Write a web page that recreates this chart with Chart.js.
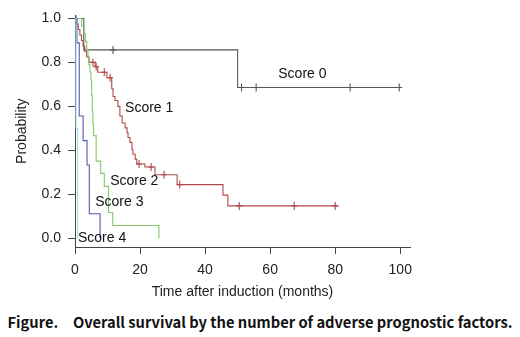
<!DOCTYPE html>
<html>
<head>
<meta charset="utf-8">
<script src="https://cdn.jsdelivr.net/npm/chart.js@4"></script>
<style>
  html, body { margin: 0; padding: 0; background: #fff; }
  #wrap { position: relative; width: 520px; height: 337px; }
  #c { position: absolute; left: 0; top: 0; }
  #cap { position: absolute; left: 0; top: 311px; width: 520px; text-align: center;
         font-family: "Noto Sans CJK JP", "Noto Sans", sans-serif; font-weight: bold;
         font-size: 14.7px; color: #111; white-space: pre; }
</style>
</head>
<body>
<div id="wrap">
  <canvas id="c" width="520" height="310"></canvas>
  <div id="cap">Figure.　Overall survival by the number of adverse prognostic factors.</div>
</div>
<script>
// ---- data ----
const seriesNames = ["Score 0", "Score 1", "Score 2", "Score 3", "Score 4"];

// Kaplan-Meier step points: times and survival probabilities
const score0Times = [0, 2.7, 50, 100];
const score0Surv  = [1, 0.857, 0.686, 0.686];
const score0CensorTimes = [0.3, 11.7, 51.2, 55.7, 84.6, 99.7];
const score0CensorSurv  = [1, 0.857, 0.686, 0.686, 0.686, 0.686];

const score1Times = [0, 0.5, 1.0, 1.5, 2.0, 2.5, 3.0, 3.6, 4.3, 6.2, 7.0, 9.8, 11.3, 11.7, 12.3, 13.2, 13.8, 14.5, 15.4, 16.0, 16.3, 16.9, 17.5, 17.8, 18.5, 19.0, 21.5, 24.6, 31.4, 45.5, 47.0, 81.0];
const score1Surv  = [1, 0.975, 0.95, 0.925, 0.90, 0.875, 0.85, 0.825, 0.80, 0.78, 0.755, 0.73, 0.68, 0.645, 0.627, 0.60, 0.556, 0.524, 0.502, 0.48, 0.458, 0.436, 0.404, 0.382, 0.36, 0.338, 0.324, 0.289, 0.244, 0.196, 0.147, 0.147];
const score1CensorTimes = [5.5, 6.5, 9.0, 10.8, 19.7, 23.4, 27.4, 32.2, 50.5, 67.4, 80.0];
const score1CensorSurv  = [0.80, 0.78, 0.755, 0.73, 0.338, 0.324, 0.289, 0.244, 0.147, 0.147, 0.147];

const score2Times = [0, 2.0, 2.8, 3.2, 3.6, 4.0, 4.3, 4.6, 4.9, 5.1, 5.3, 5.5, 5.7, 6.5, 7.9, 9.0, 10.3, 11.6, 25.8];
const score2Surv  = [1, 0.965, 0.93, 0.895, 0.86, 0.825, 0.79, 0.755, 0.72, 0.65, 0.58, 0.52, 0.467, 0.351, 0.295, 0.236, 0.117, 0.058, 0];

const score3Times = [0, 0.6, 1.3, 2.5, 3.7, 4.4, 7.7];
const score3Surv  = [1, 0.889, 0.556, 0.444, 0.333, 0.111, 0];

const score4Times = [0, 0.3, 0.8];
const score4Surv  = [1, 0.5, 0];

const xTickValues = [0, 20, 40, 60, 80, 100];
const yTickValues = [0, 0.2, 0.4, 0.6, 0.8, 1.0];

// label anchor positions (data coordinates)
const labelTimes = [62.5, 15.4, 10.8, 6.2, 0.9];
const labelSurv  = [0.747, 0.59, 0.26, 0.164, 0.0];

const colors = ["#555555", "#b04848", "#86c86a", "#5656b4", "#8fe3e6"];

// ---- build datasets ----
function pts(ts, ss) { return ts.map((t, i) => ({ x: t, y: ss[i] })); }
const curves = [
  pts(score0Times, score0Surv),
  pts(score1Times, score1Surv),
  pts(score2Times, score2Surv),
  pts(score3Times, score3Surv),
  pts(score4Times, score4Surv)
];
const censors = [
  pts(score0CensorTimes, score0CensorSurv),
  pts(score1CensorTimes, score1CensorSurv),
  [], [], []
];

const datasets = [];
// draw order: 4,3,2,1,0 so score 0 on top
[4, 3, 2, 1, 0].forEach(i => {
  datasets.push({
    label: seriesNames[i], data: curves[i], stepped: 'before',
    borderColor: colors[i], borderWidth: 1.1, pointRadius: 0, fill: false
  });
  if (censors[i].length) {
    datasets.push({
      label: seriesNames[i] + " censored", data: censors[i], showLine: false,
      pointStyle: 'line', pointRotation: 90, pointRadius: 4,
      borderColor: colors[i], pointBorderColor: colors[i], pointBorderWidth: 1.1
    });
    datasets.push({
      label: seriesNames[i] + " censored h", data: censors[i], showLine: false,
      pointStyle: 'line', pointRotation: 0, pointRadius: 3,
      borderColor: colors[i], pointBorderColor: colors[i], pointBorderWidth: 1.1
    });
  }
});

const labelPlugin = {
  id: 'scoreLabels',
  afterDatasetsDraw(chart) {
    const { ctx, scales: { x, y } } = chart;
    ctx.save();
    ctx.font = '14px "Liberation Sans", Arial, sans-serif';
    ctx.fillStyle = '#111';
    ctx.textAlign = 'left';
    ctx.textBaseline = 'middle';
    seriesNames.forEach((n, i) => {
      ctx.fillText(n, x.getPixelForValue(labelTimes[i]), y.getPixelForValue(labelSurv[i]));
    });
    ctx.restore();
  }
};

const axisFont = { family: '"Liberation Sans", Arial, sans-serif', size: 14 };
const axisColor = '#444';

new Chart(document.getElementById('c'), {
  type: 'line',
  data: { datasets },
  plugins: [labelPlugin],
  options: {
    responsive: false,
    animation: false,
    events: [],
    layout: { padding: { left: 0, top: 10, right: 110, bottom: 5 } },
    plugins: { legend: { display: false }, tooltip: { enabled: false } },
    scales: {
      x: {
        type: 'linear', min: 0, max: 103,
        afterBuildTicks(s) { s.ticks = xTickValues.map(v => ({ value: v })); },
        afterFit(s) { s.height = 58; },
        ticks: { font: axisFont, color: '#222', padding: 8, callback: v => String(v) },
        grid: { drawOnChartArea: false, drawTicks: true, tickLength: 7, color: axisColor, lineWidth: 1 },
        border: { display: true, color: axisColor, width: 1 },
        title: { display: true, text: 'Time after induction (months)', font: axisFont, color: '#222', padding: { top: 0, bottom: 4 } }
      },
      y: {
        type: 'linear', min: -0.04, max: 1.014,
        afterBuildTicks(s) { s.ticks = yTickValues.map(v => ({ value: v })); },
        afterFit(s) { s.width = 75; },
        ticks: { font: axisFont, color: '#222', padding: 7, callback: v => Number(v).toFixed(1) },
        grid: { drawOnChartArea: false, drawTicks: true, tickLength: 7, color: axisColor, lineWidth: 1 },
        border: { display: true, color: axisColor, width: 1 },
        title: { display: true, text: 'Probability', font: axisFont, color: '#222', padding: { top: 14, bottom: 0 } }
      }
    }
  }
});
</script>
</body>
</html>
